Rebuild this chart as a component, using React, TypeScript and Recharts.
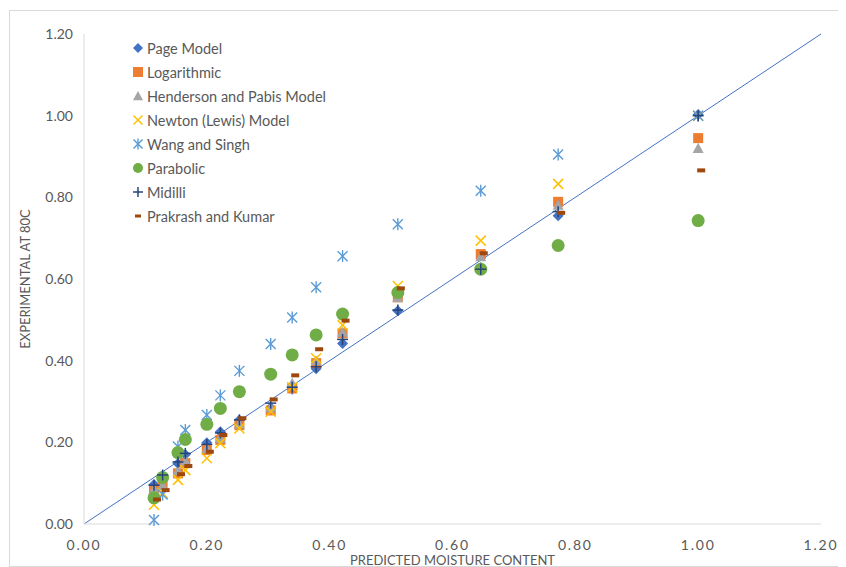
import React from 'react';
import { ScatterChart, Scatter, XAxis, YAxis, ReferenceLine, Legend } from 'recharts';

const xValues = [1.0, 0.772, 0.646, 0.511, 0.421, 0.378, 0.339, 0.304, 0.253, 0.222, 0.2, 0.165, 0.153, 0.128, 0.114];
const pageModel = [1.003, 0.755, 0.628, 0.522, 0.442, 0.38, 0.33, 0.285, 0.255, 0.226, 0.199, 0.17, 0.148, 0.118, 0.097];
const logarithmic = [0.945, 0.789, 0.661, 0.555, 0.467, 0.394, 0.332, 0.278, 0.242, 0.206, 0.181, 0.149, 0.124, 0.1, 0.083];
const henderson = [0.92, 0.781, 0.655, 0.555, 0.47, 0.4, 0.345, 0.285, 0.245, 0.21, 0.185, 0.155, 0.13, 0.095, 0.085];
const newton = [1.0, 0.833, 0.694, 0.583, 0.487, 0.406, 0.335, 0.275, 0.234, 0.198, 0.161, 0.132, 0.108, 0.075, 0.047];
const wangSingh = [1.0, 0.905, 0.816, 0.734, 0.656, 0.58, 0.506, 0.441, 0.375, 0.315, 0.267, 0.23, 0.19, 0.072, 0.01];
const parabolic = [0.743, 0.682, 0.624, 0.567, 0.514, 0.463, 0.414, 0.367, 0.324, 0.283, 0.244, 0.207, 0.175, 0.114, 0.064];
const midilli = [1.0, 0.765, 0.624, 0.524, 0.452, 0.385, 0.335, 0.296, 0.255, 0.223, 0.195, 0.173, 0.152, 0.12, 0.095];
const prakrash = [0.866, 0.762, 0.663, 0.577, 0.498, 0.428, 0.364, 0.305, 0.259, 0.218, 0.177, 0.142, 0.122, 0.083, 0.06];

const axisTicks = [0, 0.2, 0.4, 0.6, 0.8, 1.0, 1.2];

const toPoints = (ys: number[]) => xValues.map((x, i) => ({ x, y: ys[i] }));

const FONT = 'Lato, "Open Sans", sans-serif';
const TEXT = '#595959';

const Diamond = ({ cx, cy, s = 5.5 }: any) => (
  <path d={`M${cx},${cy - s}L${cx + s},${cy}L${cx},${cy + s}L${cx - s},${cy}Z`} fill="#4472C4" />
);
const Square = ({ cx, cy, s = 5 }: any) => <rect x={cx - s} y={cy - s} width={2 * s} height={2 * s} fill="#ED7D31" />;
const Triangle = ({ cx, cy, s = 5.5 }: any) => (
  <path d={`M${cx},${cy - s}L${cx + s},${cy + s * 0.85}L${cx - s},${cy + s * 0.85}Z`} fill="#A5A5A5" />
);
const XMark = ({ cx, cy, s = 5 }: any) => (
  <g stroke="#FFC000" strokeWidth={1.5}>
    <line x1={cx - s} y1={cy - s} x2={cx + s} y2={cy + s} />
    <line x1={cx - s} y1={cy + s} x2={cx + s} y2={cy - s} />
  </g>
);
const Asterisk = ({ cx, cy, s = 5 }: any) => (
  <g stroke="#5B9BD5" strokeWidth={1.4}>
    <line x1={cx - s} y1={cy - s} x2={cx + s} y2={cy + s} />
    <line x1={cx - s} y1={cy + s} x2={cx + s} y2={cy - s} />
    <line x1={cx} y1={cy - s - 1} x2={cx} y2={cy + s + 1} />
  </g>
);
const Dot = ({ cx, cy, s = 6.5 }: any) => <circle cx={cx} cy={cy} r={s} fill="#70AD47" />;
const Plus = ({ cx, cy, s = 5.5 }: any) => (
  <g stroke="#264478" strokeWidth={1.5}>
    <line x1={cx - s} y1={cy} x2={cx + s} y2={cy} />
    <line x1={cx} y1={cy - s} x2={cx} y2={cy + s} />
  </g>
);
const Dash = ({ cx, cy, w = 8, h = 4, dx = 3 }: any) => (
  <rect x={cx + dx - w / 2} y={cy - h / 2} width={w} height={h} fill="#9E480E" />
);

const seriesDefs = [
  { name: 'Page Model', data: pageModel, Shape: Diamond, legendProps: { s: 5 } },
  { name: 'Logarithmic', data: logarithmic, Shape: Square, legendProps: { s: 5 } },
  { name: 'Henderson and Pabis Model', data: henderson, Shape: Triangle, legendProps: { s: 5 } },
  { name: 'Newton (Lewis) Model', data: newton, Shape: XMark, legendProps: { s: 4.5 } },
  { name: 'Wang and Singh', data: wangSingh, Shape: Asterisk, legendProps: { s: 4.5 } },
  { name: 'Parabolic', data: parabolic, Shape: Dot, legendProps: { s: 5 } },
  { name: 'Midilli', data: midilli, Shape: Plus, legendProps: { s: 5 } },
  { name: 'Prakrash and Kumar', data: prakrash, Shape: Dash, legendProps: { w: 6, h: 3, dx: 0 } },
];

const LegendContent = () => (
  <div style={{ fontFamily: FONT, fontSize: 14.5, color: TEXT }}>
    {seriesDefs.map(({ name, Shape, legendProps }) => (
      <div key={name} style={{ display: 'flex', alignItems: 'center', height: 24 }}>
        <svg width={14} height={14} style={{ marginRight: 2 }}>
          <Shape cx={7} cy={7} {...legendProps} />
        </svg>
        <span>{name}</span>
      </div>
    ))}
  </div>
);

const fmt = (v: number) => v.toFixed(2);

export default function App() {
  return (
    <div style={{ position: 'relative', width: 838, height: 559 }}>
      <div
        style={{
          position: 'absolute',
          left: 1,
          top: 2,
          width: 837,
          height: 557,
          border: '1px solid #D9D9D9',
          boxSizing: 'border-box',
        }}
      />
      <div style={{ position: 'absolute', left: 0, top: 0 }}>
        <ScatterChart width={838} height={559} margin={{ top: 26, right: 25, bottom: 0, left: 0 }}>
          <XAxis
            type="number"
            dataKey="x"
            domain={[0, 1.2]}
            ticks={axisTicks}
            tickFormatter={fmt}
            axisLine={{ stroke: '#D9D9D9' }}
            tickLine={false}
            tickMargin={10}
            height={43}
            tick={{ fill: TEXT, fontSize: 14, fontFamily: FONT, letterSpacing: 1.8 }}
            interval={0}
            label={{
              content: ({ viewBox }: any) => (
                <text
                  x={viewBox.x + viewBox.width / 2}
                  y={viewBox.y + 41}
                  textAnchor="middle"
                  fill={TEXT}
                  fontSize={13}
                  fontFamily={FONT}
                >
                  PREDICTED MOISTURE CONTENT
                </text>
              ),
            }}
          />
          <YAxis
            type="number"
            dataKey="y"
            domain={[0, 1.2]}
            ticks={axisTicks}
            tickFormatter={fmt}
            axisLine={{ stroke: '#D9D9D9' }}
            tickLine={false}
            tickMargin={5}
            width={76}
            tick={{ fill: TEXT, fontSize: 14, fontFamily: FONT }}
            interval={0}
            label={{
              content: ({ viewBox }: any) => {
                const cx = 17;
                const cy = viewBox.y + viewBox.height / 2;
                return (
                  <text
                    x={cx}
                    y={cy}
                    transform={`rotate(-90 ${cx} ${cy})`}
                    textAnchor="middle"
                    dominantBaseline="central"
                    fill={TEXT}
                    fontSize={13}
                    fontFamily={FONT}
                  >
                    EXPERIMENTAL AT 80C
                  </text>
                );
              },
            }}
          />
          {seriesDefs.map(({ name, data, Shape }) => (
            <Scatter
              key={name}
              name={name}
              data={toPoints(data)}
              isAnimationActive={false}
              shape={(p: any) => <Shape cx={p.cx} cy={p.cy} />}
            />
          ))}
          <ReferenceLine
            segment={[
              { x: 0, y: 0 },
              { x: 1.2, y: 1.2 },
            ]}
            stroke="#4472C4"
            strokeWidth={1}
          />
          <Legend
            layout="vertical"
            align="center"
            verticalAlign="middle"
            content={LegendContent}
            wrapperStyle={{ left: 123, top: 28, width: 240, height: 200 }}
          />
        </ScatterChart>
      </div>
    </div>
  );
}
